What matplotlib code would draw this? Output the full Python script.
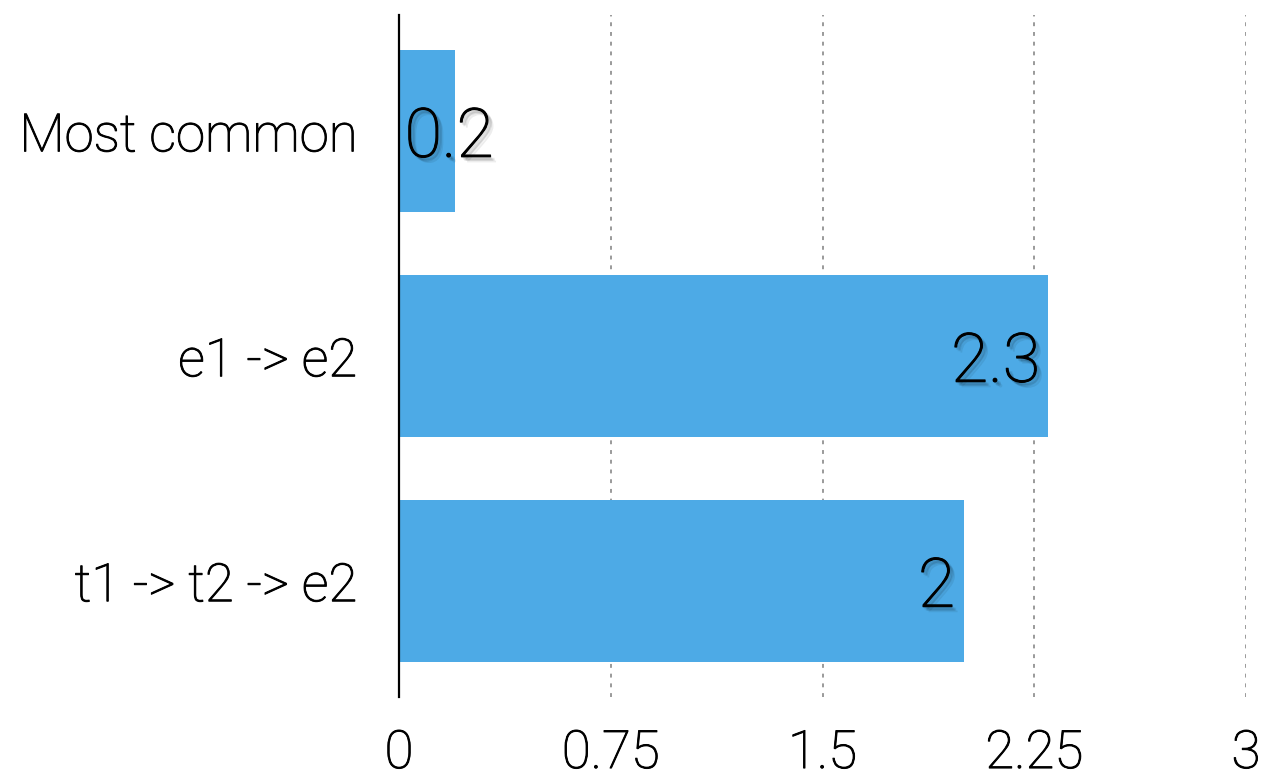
import matplotlib
matplotlib.use("Agg")
import matplotlib.pyplot as plt
import matplotlib.patheffects as pe

categories = ["Most common", "e1 -> e2", "t1 -> t2 -> e2"]
values = [0.2, 2.3, 2.0]
value_labels = ["0.2", "2.3", "2"]
xticks = [0, 0.75, 1.5, 2.25, 3]
xtick_labels = ["0", "0.75", "1.5", "2.25", "3"]

bar_color = "#4DAAE6"
font = ["Roboto", "DejaVu Sans"]

fig = plt.figure(figsize=(12.65, 7.78), dpi=100)
ax = fig.add_axes([399 / 1265, 1 - 697 / 778, (1246 - 399) / 1265, (697 - 15) / 778])

y = list(range(len(categories)))
ax.barh(y, values, height=0.72, color=bar_color, zorder=2)

ax.set_xlim(0, 3)
ax.set_ylim(2.516, -0.516)

# slightly heavier strokes for the light face
thicken = [pe.withStroke(linewidth=0.7, foreground="black")]

ax.set_xticks(xticks)
ax.set_xticklabels(xtick_labels, fontsize=38, fontfamily=font, fontweight="light",
                   path_effects=thicken)
ax.set_yticks(y)
ax.set_yticklabels(categories, fontsize=38, fontfamily=font, fontweight="light",
                   path_effects=thicken)
ax.tick_params(axis="both", length=0)
ax.tick_params(axis="x", pad=22)
ax.tick_params(axis="y", pad=30)

for s in ["top", "right", "bottom"]:
    ax.spines[s].set_visible(False)
ax.spines["left"].set_linewidth(1.6)
ax.spines["left"].set_color("black")
ax.spines["left"].set_zorder(3)

for xv in xticks[1:]:
    ax.axvline(xv, color="#9a9a9a", linestyle=(0, (2, 3)), linewidth=1.4, zorder=1)

# soft drop shadow built from several faint offset copies
shadow = [pe.SimplePatchShadow(offset=off, shadow_rgbFace="black", alpha=0.07)
          for off in [(1, -1), (2, -2), (3, -3), (2, -3), (3, -2), (1, -2), (4, -4)]]
shadow.append(pe.withStroke(linewidth=0.8, foreground="black"))

for yi, v, lab in zip(y, values, value_labels):
    if v < 0.5:
        ax.text(0.02, yi, lab, ha="left", va="center_baseline", fontsize=49,
                fontfamily=font, fontweight="light", color="black",
                path_effects=shadow, zorder=4)
    else:
        ax.text(v - 0.03, yi, lab, ha="right", va="center_baseline", fontsize=49,
                fontfamily=font, fontweight="light", color="black",
                path_effects=shadow, zorder=4)

fig.savefig("out.png", dpi=100)
